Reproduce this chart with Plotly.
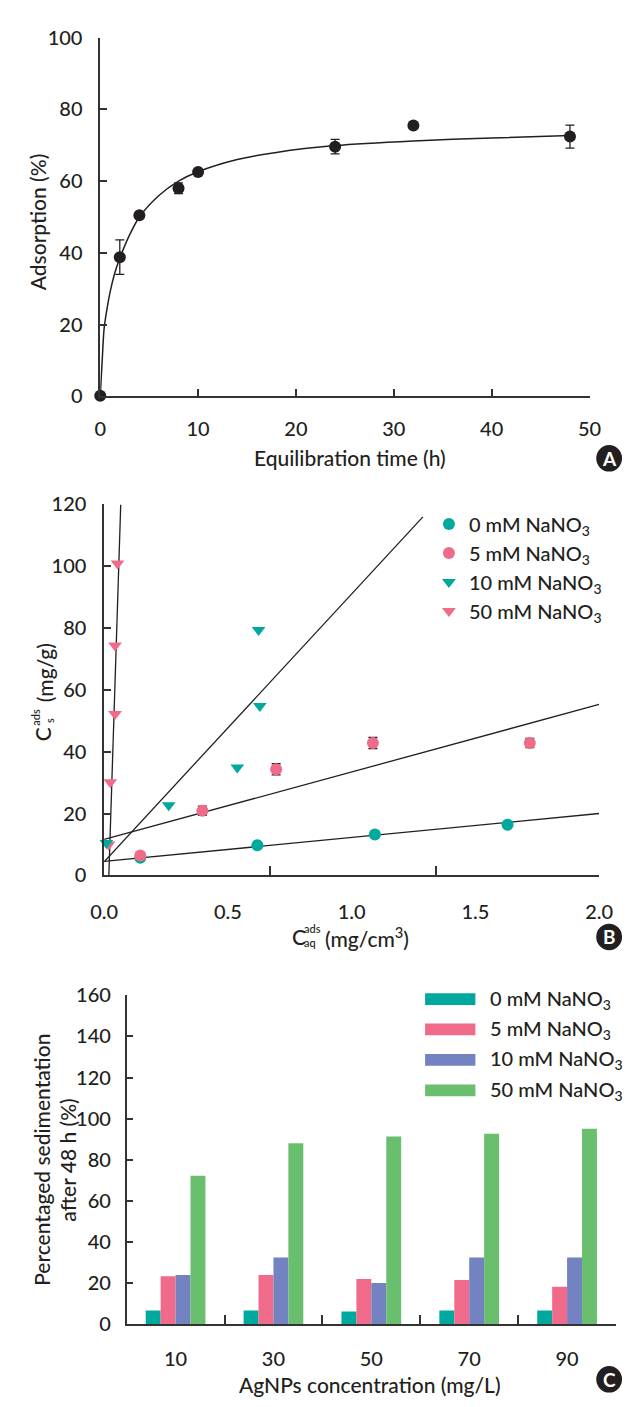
import plotly.graph_objects as go

W, H = 637, 1407
FONT = "Lato, 'Open Sans', 'DejaVu Sans', sans-serif"
TXT = "#231f20"
AX = "#333333"
WT = 500

def px(x):
    return x / W

def py(y):
    return 1 - y / H

# ---------------- Panel A data ----------------
time_h = [0, 2, 4, 8, 10, 24, 32, 48]
adsorption = [0.2, 38.8, 50.5, 58.0, 62.5, 69.6, 75.5, 72.4]
adsorption_err = [0, 4.8, 0, 1.5, 0, 2.0, 0, 3.2]
fit_t = [0, 0.1, 0.2, 0.4, 0.7, 1, 1.5, 2, 3, 4, 6, 8, 10, 14, 18, 24, 32, 40, 48]
fit_y = [0, 5, 10, 19, 24.5, 29, 34.5, 38.5, 45, 50, 56, 60, 62.6, 66, 68, 69.9, 71.2, 72, 72.7]

# ---------------- Panel B data ----------------
b_names = ["0 mM NaNO<sub>3</sub>", "5 mM NaNO<sub>3</sub>",
           "10 mM NaNO<sub>3</sub>", "50 mM NaNO<sub>3</sub>"]
caq_0 = [0.146, 0.619, 1.094, 1.630]
cs_0 = [5.7, 9.7, 13.2, 16.4]
caq_5 = [0.146, 0.397, 0.695, 1.086, 1.720]
cs_5 = [6.4, 20.9, 34.3, 42.8, 42.8]
cs_5_err = [0, 1.5, 1.8, 1.8, 1.5]
caq_10 = [0.009, 0.261, 0.538, 0.624, 0.629]
cs_10 = [10.5, 22.7, 34.9, 79.4, 54.8]
caq_50 = [0.018, 0.025, 0.044, 0.044, 0.054]
cs_50 = [10.0, 30.1, 52.2, 74.4, 100.9]
fit0_x, fit0_y = [0.0, 2.0], [4.5, 20.0]
fit5_x, fit5_y = [0.0, 2.0], [11.6, 55.3]
fit10_x, fit10_y = [0.0, 1.288], [4.4, 116.0]
fit50_x, fit50_y = [0.019, 0.067], [0.0, 120.0]
b_minor_ticks = [0.67, 1.34, 2.0]

# ---------------- Panel C data ----------------
conc = ["10", "30", "50", "70", "90"]
sed_0 = [6.7, 6.7, 6.2, 6.7, 6.7]
sed_5 = [23.4, 23.9, 22.0, 21.5, 18.2]
sed_10 = [23.9, 32.5, 20.1, 32.5, 32.5]
sed_50 = [72.2, 88.0, 91.3, 92.7, 95.1]
c_names = ["0 mM NaNO<sub>3</sub>", "5 mM NaNO<sub>3</sub>",
           "10 mM NaNO<sub>3</sub>", "50 mM NaNO<sub>3</sub>"]

TEAL = "#00a99d"
PINK = "#f06b8a"
BLUE = "#7382c0"
GREEN = "#6abf6f"
BLACK = "#231f20"

fig = go.Figure()

# Panel A
fig.add_trace(go.Scatter(x=fit_t, y=fit_y, mode="lines",
                         line=dict(color=BLACK, width=1.5, shape="spline", smoothing=0.8),
                         xaxis="x", yaxis="y", showlegend=False, hoverinfo="skip"))
fig.add_trace(go.Scatter(x=time_h, y=adsorption, mode="markers",
                         marker=dict(color=BLACK, size=12),
                         error_y=dict(type="data", array=adsorption_err, color=BLACK, thickness=1.3, width=4.5),
                         xaxis="x", yaxis="y", showlegend=False, cliponaxis=False))

# Panel B fitted lines
for fx, fy in [(fit0_x, fit0_y), (fit5_x, fit5_y), (fit10_x, fit10_y), (fit50_x, fit50_y)]:
    fig.add_trace(go.Scatter(x=fx, y=fy, mode="lines", line=dict(color=BLACK, width=1.3),
                             xaxis="x2", yaxis="y2", showlegend=False, hoverinfo="skip"))

fig.add_trace(go.Scatter(x=caq_0, y=cs_0, mode="markers", name=b_names[0], legendgroup="g0", legendrank=1,
                         marker=dict(color=TEAL, size=12, symbol="circle"),
                         xaxis="x2", yaxis="y2", cliponaxis=False))
fig.add_trace(go.Scatter(x=caq_5, y=cs_5, mode="markers", name=b_names[1], legendgroup="g1", legendrank=2,
                         marker=dict(color=PINK, size=12, symbol="circle"),
                         error_y=dict(type="data", array=cs_5_err, color=BLACK, thickness=1.3, width=4.5),
                         xaxis="x2", yaxis="y2", cliponaxis=False))
fig.add_trace(go.Scatter(x=caq_50, y=cs_50, mode="markers", name=b_names[3], legendgroup="g3", legendrank=4,
                         marker=dict(color=PINK, size=12, symbol="triangle-down"),
                         xaxis="x2", yaxis="y2", cliponaxis=False))
fig.add_trace(go.Scatter(x=caq_10, y=cs_10, mode="markers", name=b_names[2], legendgroup="g2", legendrank=3,
                         marker=dict(color=TEAL, size=12, symbol="triangle-down"),
                         xaxis="x2", yaxis="y2", cliponaxis=False))

# Panel C bars
for vals, col, nm in [(sed_0, TEAL, c_names[0]), (sed_5, PINK, c_names[1]),
                      (sed_10, BLUE, c_names[2]), (sed_50, GREEN, c_names[3])]:
    fig.add_trace(go.Bar(x=conc, y=vals, name=nm, marker=dict(color=col, line=dict(width=0)),
                         xaxis="x3", yaxis="y3", showlegend=False))

# invisible trace that activates the overlay axis carrying panel B's minor ticks
fig.add_trace(go.Scatter(x=[None], y=[None], xaxis="x4", yaxis="y2", showlegend=False, hoverinfo="skip"))

common = dict(showgrid=False, zeroline=False, showline=True, linecolor=AX, linewidth=1.5,
              ticks="inside", tickcolor=AX, tickwidth=1.5,
              tickfont=dict(family=FONT, size=20, color=TXT, weight=WT))

fig.update_layout(
    width=W, height=H, autosize=False,
    margin=dict(l=0, r=0, t=0, b=0),
    paper_bgcolor="white", plot_bgcolor="white",
    barmode="group", bargap=0.39, bargroupgap=0,
    font=dict(family=FONT, size=20, color=TXT, weight=WT),
    xaxis=dict(common, domain=[px(90.2), px(602)], range=[0, 50], anchor="y",
               tickvals=[0, 10, 20, 30, 40, 50], ticklen=8, ticklabelstandoff=14),
    yaxis=dict(common, domain=[py(390), py(25)], range=[0, 100], anchor="x",
               tickvals=[0, 20, 40, 60, 80, 100], ticklen=7, ticklabelstandoff=12),
    xaxis2=dict(common, domain=[px(94.3), px(612)], range=[0, 2], anchor="y2",
                tickvals=[0, 0.5, 1.0, 1.5, 2.0], tickformat=".1f", ticks="", ticklabelstandoff=18),
    xaxis4=dict(common, domain=[px(94.3), px(612)], range=[0, 2], anchor="y2", overlaying="x2",
                tickvals=b_minor_ticks, ticklen=9, showticklabels=False, showline=False),
    yaxis2=dict(common, domain=[py(877.3), py(500)], range=[0, 120], anchor="x2",
                tickvals=[0, 20, 40, 60, 80, 100, 120], ticklen=7, ticklabelstandoff=12),
    xaxis3=dict(common, domain=[px(117.8), px(629.7)], anchor="y3", type="category",
                tickson="boundaries", ticklen=9, ticklabelstandoff=16),
    yaxis3=dict(common, domain=[py(1334), py(999.3)], range=[0, 160], anchor="x3",
                tickvals=[0, 20, 40, 60, 80, 100, 120, 140, 160], ticklen=7, ticklabelstandoff=10),
    legend=dict(x=px(434), y=py(500), xanchor="left", yanchor="top",
                font=dict(family=FONT, size=20, color=TXT, weight=WT), bgcolor="rgba(0,0,0,0)",
                tracegroupgap=9, traceorder="normal"),
)

ann = []
def text(x, y, t, size=20, angle=0, color=TXT, bold=False, xanchor="center"):
    ann.append(dict(x=px(x), y=py(y), xref="paper", yref="paper", text=t,
                    showarrow=False, textangle=angle, xanchor=xanchor, yanchor="middle",
                    font=dict(family=FONT, size=size, color=color, weight=700 if bold else WT)))

# Axis titles
text(351, 452, "Equilibration time (h)", size=21)
text(24, 212, "Adsorption (%)", size=21, angle=-90)
# Panel B x title (stacked super/subscript)
text(298, 940, "C", size=21)
text(312, 931, "ads", size=11)
text(310, 946, "aq", size=11)
text(369, 940, "(mg/cm<sup>3</sup>)", size=21)
# Panel B y title
text(30, 734, "C", size=21, angle=-90)
text(23, 716, "ads", size=11, angle=-90)
text(37, 720, "s", size=11, angle=-90)
text(32, 671, "(mg/g)", size=21, angle=-90)
# Panel C titles
text(372, 1395, "AgNPs concentration (mg/L)", size=21)
text(28, 1167, "Percentaged sedimentation", size=21, angle=-90)
text(56, 1167, "after 48 h (%)", size=21, angle=-90)

# Panel C custom legend
shapes = []
c_cols = [TEAL, PINK, BLUE, GREEN]
rows = [1003.3, 1034, 1065, 1096]
for col, nm, ry in zip(c_cols, c_names, rows):
    shapes.append(dict(type="rect", xref="paper", yref="paper", x0=px(430), x1=px(482.6),
                       y0=py(ry + 6), y1=py(ry - 6), fillcolor=col, line=dict(width=0)))
    text(496, ry, nm, xanchor="left")

# Panel badges
for lab, cy in [("A", 453), ("B", 940), ("C", 1390)]:
    shapes.append(dict(type="circle", xref="paper", yref="paper", x0=px(609), x1=px(636),
                       y0=py(cy + 13.5), y1=py(cy - 13.5), fillcolor=BLACK, line=dict(width=0)))
    text(622.5, cy, lab, size=19, color="white", bold=True)

fig.update_layout(annotations=ann, shapes=shapes)
fig.write_html("out.html")
